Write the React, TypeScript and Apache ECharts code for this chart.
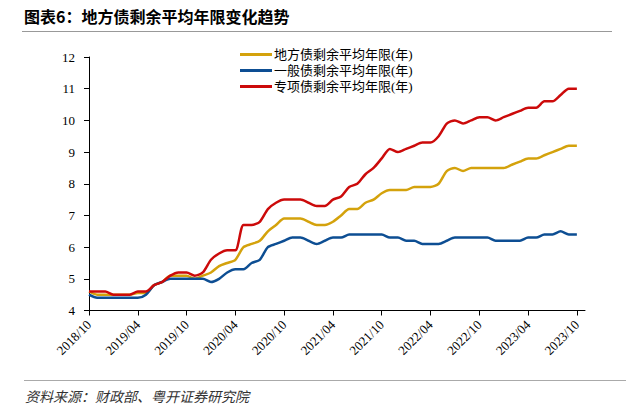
import React, { useEffect, useRef } from "react";
import * as echarts from "echarts";

const months: string[] = [];
for (let y = 2018, m = 10; y < 2023 || (y === 2023 && m <= 11); ) {
  months.push(`${y}/${m < 10 ? "0" + m : m}`);
  m++;
  if (m > 12) { m = 1; y++; }
}

const seriesNames = ["地方债剩余平均年限(年)", "一般债剩余平均年限(年)", "专项债剩余平均年限(年)"];

const localAll = [
  4.6, 4.5, 4.5, 4.5, 4.5, 4.5, 4.55, 4.55, 4.8, 4.9, 5.1, 5.1, 5.1, 5.0, 5.1, 5.2, 5.4, 5.5, 5.6, 6.0,
  6.1, 6.2, 6.5, 6.7, 6.9, 6.9, 6.9, 6.8, 6.7, 6.7, 6.8, 7.0, 7.2, 7.2, 7.4, 7.5, 7.7, 7.8, 7.8, 7.8,
  7.9, 7.9, 7.9, 8.0, 8.4, 8.5, 8.4, 8.5, 8.5, 8.5, 8.5, 8.5, 8.6, 8.7, 8.8, 8.8, 8.9, 9.0, 9.1, 9.2, 9.2,
];
const general = [
  4.5, 4.4, 4.4, 4.4, 4.4, 4.4, 4.4, 4.5, 4.8, 4.9, 5.0, 5.0, 5.0, 5.0, 5.0, 4.9, 5.0, 5.2, 5.3, 5.3,
  5.5, 5.6, 6.0, 6.1, 6.2, 6.3, 6.3, 6.2, 6.1, 6.2, 6.3, 6.3, 6.4, 6.4, 6.4, 6.4, 6.4, 6.3, 6.3, 6.2,
  6.2, 6.1, 6.1, 6.1, 6.2, 6.3, 6.3, 6.3, 6.3, 6.3, 6.2, 6.2, 6.2, 6.2, 6.3, 6.3, 6.4, 6.4, 6.5, 6.4, 6.4,
];
const special = [
  4.6, 4.6, 4.6, 4.5, 4.5, 4.5, 4.6, 4.6, 4.8, 4.9, 5.1, 5.2, 5.2, 5.1, 5.2, 5.6, 5.8, 5.9, 5.9, 6.7,
  6.7, 6.8, 7.2, 7.4, 7.5, 7.5, 7.5, 7.4, 7.3, 7.3, 7.5, 7.6, 7.9, 8.0, 8.3, 8.5, 8.8, 9.1, 9.0, 9.1,
  9.2, 9.3, 9.3, 9.5, 9.9, 10.0, 9.9, 10.0, 10.1, 10.1, 10.0, 10.1, 10.2, 10.3, 10.4, 10.4, 10.6, 10.6, 10.8, 11.0, 11.0,
];

const colors = ["#D4A20C", "#0D4E93", "#CC0A0A"];

export default function App() {
  const ref = useRef<HTMLDivElement>(null);
  useEffect(() => {
    if (!ref.current) return;
    const chart = echarts.init(ref.current, undefined, { renderer: "svg" });
    const serif = "'Liberation Serif', 'Noto Sans CJK SC', serif";
    const mk = (name: string, data: number[], color: string) => ({
      name,
      type: "line",
      data,
      smooth: 0.25,
      showSymbol: false,
      symbol: "none",
      lineStyle: { color, width: 2.5 },
      itemStyle: { color },
    });
    chart.setOption({
      animation: false,
      backgroundColor: "#fff",
      grid: { left: 89, right: 41, top: 57, bottom: 100.5, containLabel: false },
      legend: {
        orient: "vertical",
        left: 235,
        top: 43,
        itemWidth: 32,
        itemHeight: 3,
        itemGap: 3,
        icon: "rect",
        data: seriesNames,
        textStyle: {
          fontSize: 13,
          lineHeight: 13,
          color: "#000",
          fontFamily: serif,
          padding: [0, 0, 0, -3],
        },
      },
      xAxis: {
        type: "category",
        data: months,
        boundaryGap: false,
        axisLine: { lineStyle: { color: "#000", width: 1 } },
        axisTick: { interval: 5, length: 5, lineStyle: { color: "#000" } },
        axisLabel: { interval: 5, rotate: 45, fontSize: 13, color: "#000", fontFamily: serif, margin: 12 },
        splitLine: { show: false },
      },
      yAxis: {
        type: "value",
        min: 4,
        max: 12,
        interval: 1,
        axisLine: { show: true, lineStyle: { color: "#000", width: 1 } },
        axisTick: { show: true, length: 5, lineStyle: { color: "#000" } },
        axisLabel: { fontSize: 13, color: "#000", fontFamily: serif, margin: 14 },
        splitLine: { show: false },
      },
      series: [
        mk(seriesNames[0], localAll, colors[0]),
        mk(seriesNames[1], general, colors[1]),
        mk(seriesNames[2], special, colors[2]),
      ],
      graphic: [
        {
          type: "text",
          left: 24,
          top: 8,
          style: {
            text: "图表6：地方债剩余平均年限变化趋势",
            font: "bold 16px 'Noto Sans CJK SC', sans-serif",
            fill: "#000",
          },
        },
        { type: "line", shape: { x1: 22, y1: 31.5, x2: 612, y2: 31.5 }, style: { stroke: "#999", lineWidth: 1 } },
        { type: "line", shape: { x1: 24, y1: 380.5, x2: 626, y2: 380.5 }, style: { stroke: "#aaa", lineWidth: 1 } },
        {
          type: "text",
          left: 25,
          top: 389,
          style: {
            text: "资料来源：财政部、粤开证券研究院",
            font: "italic 14px 'Noto Sans CJK SC', serif",
            fill: "#333",
          },
        },
      ],
    });
    return () => chart.dispose();
  }, []);
  return (
    <div
      ref={ref}
      style={{ position: "absolute", left: 0, top: 0, width: 626, height: 411, background: "#fff" }}
    />
  );
}
